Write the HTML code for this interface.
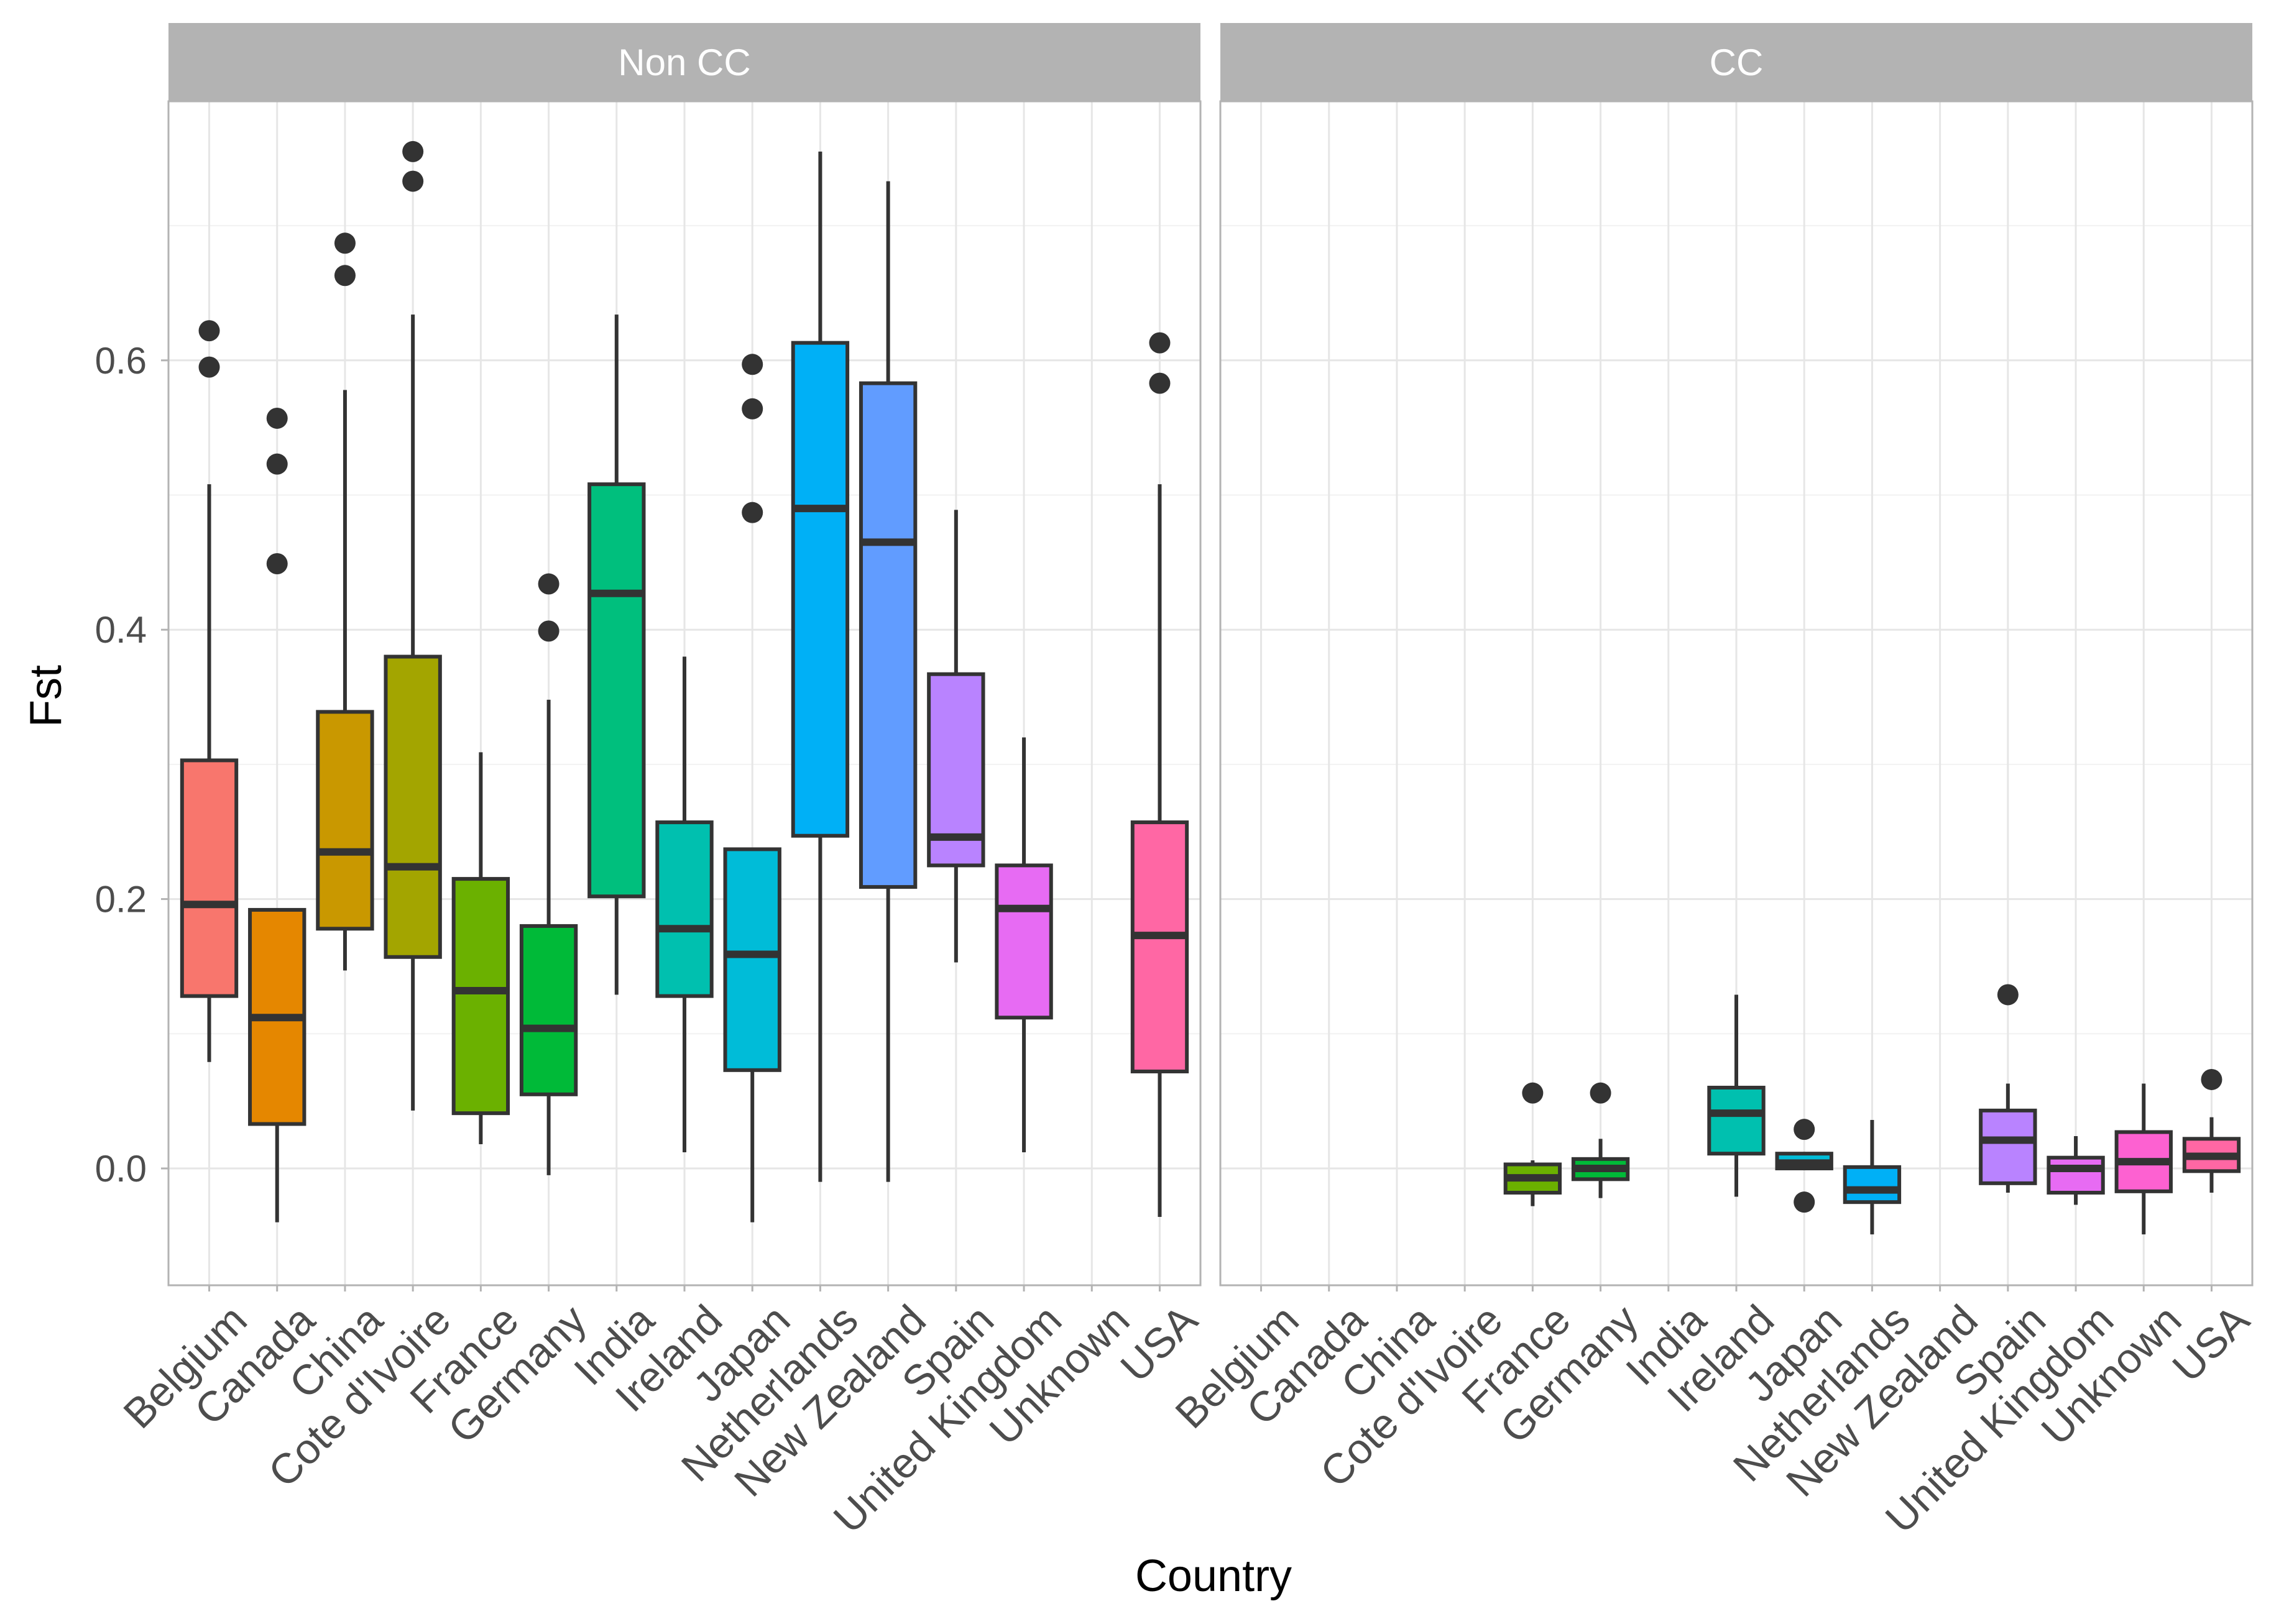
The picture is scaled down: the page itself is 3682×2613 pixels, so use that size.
<!DOCTYPE html>
<html><head><meta charset="utf-8"><style>
html,body{margin:0;padding:0;background:#fff;}
svg{display:block;}
text{font-family:"Liberation Sans",sans-serif;}
</style></head>
<body>
<svg id="chart" width="3682" height="2613" viewBox="0 0 3682 2613" xmlns="http://www.w3.org/2000/svg">
<rect width="3682" height="2613" fill="#fff"/>
<g id="grid"></g><g id="marks"></g><g id="axes"></g>
<text x="98" y="1120" font-size="72" fill="#000" text-anchor="middle" transform="rotate(-90 98 1120)">Fst</text>
<text x="1952" y="2560" font-size="72" fill="#000" text-anchor="middle">Country</text>
</svg>
<script>
const categories = ["Belgium","Canada","China","Cote d'Ivoire","France","Germany","India","Ireland","Japan","Netherlands","New Zealand","Spain","United Kingdom","Unknown","USA"];
const colors = ["#F8766D","#E58700","#C99800","#A3A500","#6BB100","#00BA38","#00BF7D","#00C0AF","#00BCD8","#00B0F6","#619CFF","#B983FF","#E76BF3","#FD61D1","#FF67A4"];
const panels = ["Non CC","CC"];
const yTicks = [0.0,0.2,0.4,0.6];
const yTickLabels = ["0.0","0.2","0.4","0.6"];
const yMinor = [0.1,0.3,0.5,0.7];
// [low, q1, median, q3, high] per category; null = no data
const nonccStats = [
 [0.079,0.128,0.196,0.303,0.508],
 [-0.040,0.033,0.112,0.192,0.192],
 [0.147,0.178,0.235,0.339,0.578],
 [0.043,0.157,0.224,0.380,0.634],
 [0.018,0.041,0.132,0.215,0.309],
 [-0.005,0.055,0.104,0.180,0.348],
 [0.129,0.202,0.427,0.508,0.634],
 [0.012,0.128,0.178,0.257,0.380],
 [-0.040,0.073,0.159,0.237,0.237],
 [-0.010,0.247,0.490,0.613,0.755],
 [-0.010,0.209,0.465,0.583,0.733],
 [0.153,0.225,0.246,0.367,0.489],
 [0.012,0.112,0.193,0.225,0.320],
 null,
 [-0.036,0.072,0.173,0.257,0.508]
];
const nonccOutliers = [[0.622,0.595],[0.557,0.523,0.449],[0.687,0.663],[0.755,0.733],[],[0.434,0.399],[],[],[0.597,0.564,0.487],[],[],[],[],[],[0.613,0.583]];
const ccStats = [
 null,null,null,null,
 [-0.028,-0.018,-0.007,0.003,0.006],
 [-0.022,-0.008,0.000,0.007,0.022],
 null,
 [-0.021,0.011,0.041,0.060,0.129],
 [0.000,0.000,0.004,0.011,0.011],
 [-0.049,-0.025,-0.016,0.001,0.036],
 null,
 [-0.018,-0.011,0.021,0.043,0.063],
 [-0.027,-0.018,0.000,0.008,0.024],
 [-0.049,-0.017,0.005,0.027,0.063],
 [-0.018,-0.002,0.009,0.022,0.038]
];
const ccOutliers = [[],[],[],[],[0.056],[0.056],[],[],[0.029,-0.025],[],[],[0.129],[],[],[0.066]];

const NS="http://www.w3.org/2000/svg";
const G=document.getElementById('grid'),M=document.getElementById('marks'),A=document.getElementById('axes');
const plotTop=163, plotBot=2068, stripTop=37;
const panelX=[271,1963], panelW=1660;
function y(v){return 1880 - v*2167;}
function x(p,i){return panelX[p] + (i+0.6)*panelW/15.2;}
const bw=0.8*panelW/15.2;
function mk(tag,attrs,parent){const e=document.createElementNS(NS,tag);for(const k in attrs)e.setAttribute(k,attrs[k]);parent.appendChild(e);return e;}

const statsAll=[nonccStats,ccStats], outAll=[nonccOutliers,ccOutliers];
for(let p=0;p<2;p++){
  const x0=panelX[p];
  const pg=mk('rect',{x:x0,y:plotTop,width:panelW,height:plotBot-plotTop,fill:'#fff'},G);
  
  
  yMinor.forEach(v=>{const l=mk('line',{x1:x0,x2:x0+panelW,y1:y(v),y2:y(v),stroke:'#f2f2f2','stroke-width':2},G);
    
    });
  yTicks.forEach(v=>{const l=mk('line',{x1:x0,x2:x0+panelW,y1:y(v),y2:y(v),stroke:'#e6e6e6','stroke-width':3},G);
    
    });
  categories.forEach((c,i)=>{const l=mk('line',{x1:x(p,i),x2:x(p,i),y1:plotTop,y2:plotBot,stroke:'#e6e6e6','stroke-width':3},G);
    
    });
  const s=mk('rect',{x:x0,y:stripTop,width:panelW,height:plotTop-stripTop,fill:'#b3b3b3'},A);
  
  
  const st=mk('text',{x:x0+panelW/2,y:(stripTop+plotTop)/2+21,'font-size':60,fill:'#fff','text-anchor':'middle'},A);
  st.textContent=panels[p];
  
  
  const b=mk('rect',{x:x0,y:plotTop,width:panelW,height:plotBot-plotTop,fill:'none',stroke:'#b3b3b3','stroke-width':3},A);
  
  
  categories.forEach((c,i)=>{
    const tk=mk('line',{x1:x(p,i),x2:x(p,i),y1:plotBot,y2:plotBot+10,stroke:'#b3b3b3','stroke-width':3},A);
    
    
    const tx=x(p,i)+30, ty=plotBot+26;
    const t=mk('text',{x:0,y:0,'font-size':68,fill:'#4d4d4d','text-anchor':'end',dy:'0.72em',transform:`translate(${tx},${ty}) rotate(-45)`},A);
    t.textContent=c;
    
    
    const st=statsAll[p][i];
    if(st){
      const cx=x(p,i);
      const g=mk('g',{},M);
      
      
      mk('line',{x1:cx,x2:cx,y1:y(st[4]),y2:y(st[3]),stroke:'#333','stroke-width':6},g);
      mk('line',{x1:cx,x2:cx,y1:y(st[1]),y2:y(st[0]),stroke:'#333','stroke-width':6},g);
      mk('rect',{x:cx-bw/2,y:y(st[3]),width:bw,height:Math.max(0,y(st[1])-y(st[3])),fill:colors[i],stroke:'#333','stroke-width':6},g);
      mk('line',{x1:cx-bw/2,x2:cx+bw/2,y1:y(st[2]),y2:y(st[2]),stroke:'#333','stroke-width':12},g);
    }
    outAll[p][i].forEach(v=>{
      const o=mk('circle',{cx:x(p,i),cy:y(v),r:17,fill:'#333'},M);
      
      
    });
  });
}
yTicks.forEach((v,k)=>{
  const tk=mk('line',{x1:259,x2:271,y1:y(v),y2:y(v),stroke:'#b3b3b3','stroke-width':3},A);
  
  
  const t=mk('text',{x:236,y:y(v)+21,'font-size':60,fill:'#4d4d4d','text-anchor':'end'},A);
  t.textContent=yTickLabels[k];
  
  
});
</script>
</body></html>
